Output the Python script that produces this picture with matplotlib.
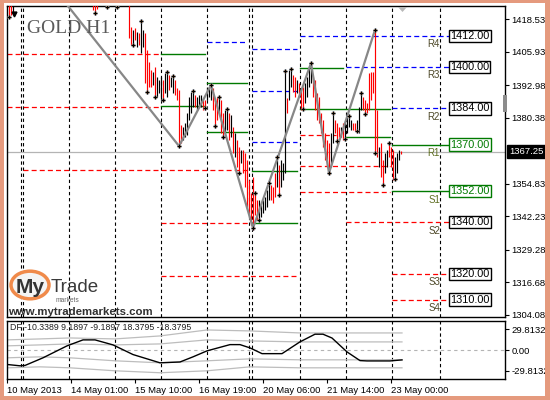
import matplotlib
matplotlib.use('Agg')
import matplotlib.pyplot as plt
from matplotlib.patches import Rectangle, Circle, Polygon

plt.rcParams['font.family'] = ['Liberation Sans', 'DejaVu Sans']

W, H = 550, 400
def fx(px): return px / W
def fy(py): return 1 - py / H

# ---------------- data ----------------
bar_idx = [1, 2, 3, 43, 44, 45, 50, 55] + list(range(61, 198))
bar_high = [1425, 1425, 1425, 1425, 1425, 1425, 1425, 1425,
            1425, 1415.4, 1414.3, 1415.05, 1413.5, 1413.1, 1418.1, 1414.3, 1413.1, 1406.5,
            1401.9, 1398.8, 1398.0, 1400.0, 1396.1, 1394.9, 1396.1, 1394.9, 1397.65, 1398.0,
            1396.9, 1396.1, 1396.5, 1394.9, 1391.85, 1391.1, 1377.5, 1376.8, 1378.3, 1382.2,
            1388.4, 1390.3, 1390.7, 1389.1, 1388.4, 1389.1, 1389.1, 1387.2, 1387.2, 1392.2,
            1392.2, 1393.0, 1391.85, 1387.2, 1388.4, 1388.4, 1387.2, 1382.2, 1383.3, 1383.7,
            1382.2, 1381.4, 1376.8, 1374.4, 1371.7, 1369.0, 1367.9, 1367.9, 1366.7, 1364.0,
            1356.3, 1351.25, 1357.4, 1351.25, 1348.5, 1348.5, 1346.6, 1348.5, 1349.7, 1352.4,
            1355.1, 1354.3, 1353.6, 1359.0, 1365.2, 1362.1, 1364.0, 1362.8, 1398.4, 1388.0,
            1398.8, 1399.2, 1396.9, 1396.1, 1394.9, 1393.8, 1391.1, 1392.2, 1393.8, 1396.1,
            1400.0, 1401.5, 1396.1, 1394.9, 1389.9, 1388.4, 1382.2, 1379.5, 1374.4, 1371.7,
            1370.6, 1374.4, 1382.2, 1379.5, 1378.3, 1376.8, 1376.8, 1378.3, 1378.3, 1380.6,
            1381.0, 1379.5, 1378.3, 1378.3, 1379.5, 1384.5, 1389.9, 1388.4, 1387.2, 1386.05,
            1397.65, 1398.0, 1398.0, 1414.3, 1383.3, 1369.0, 1370.6, 1364.0, 1366.7, 1367.9,
            1370.6, 1369.0, 1367.9, 1365.2, 1366.7, 1367.9, 1367.5]
bar_low = [1419.3, 1420.1, 1421.2, 1422.0, 1420.85, 1422.4, 1423.0, 1423.0,
           1411.2, 1408.5, 1408.5, 1410.4, 1407.7, 1408.5, 1405.4, 1407.7, 1393.8, 1390.3,
           1392.2, 1392.2, 1393.0, 1388.4, 1388.4, 1389.9, 1387.2, 1387.2, 1389.9, 1388.4,
           1391.1, 1392.2, 1389.9, 1389.1, 1387.2, 1369.0, 1370.6, 1371.7, 1372.9, 1373.7,
           1379.5, 1382.2, 1384.5, 1384.5, 1383.3, 1384.5, 1384.5, 1383.3, 1383.3, 1387.2,
           1388.4, 1387.2, 1383.3, 1376.8, 1379.5, 1382.2, 1374.4, 1372.9, 1374.4, 1375.6,
           1371.7, 1372.9, 1366.7, 1365.2, 1361.3, 1359.0, 1362.8, 1359.0, 1353.6, 1345.8,
           1342.7, 1338.9, 1336.9, 1342.7, 1340.8, 1340.8, 1342.0, 1343.5, 1344.7, 1345.8,
           1348.5, 1348.5, 1347.4, 1349.7, 1353.6, 1350.5, 1353.6, 1356.3, 1359.0, 1382.2,
           1387.2, 1392.2, 1390.3, 1388.4, 1389.9, 1388.4, 1383.3, 1383.3, 1386.05, 1388.4,
           1392.2, 1393.8, 1388.4, 1383.3, 1379.5, 1378.3, 1374.4, 1369.0, 1364.0, 1361.3,
           1359.0, 1361.3, 1370.6, 1374.4, 1371.7, 1372.9, 1372.9, 1371.7, 1371.7, 1374.4,
           1376.8, 1375.6, 1375.6, 1375.2, 1375.2, 1374.4, 1383.3, 1383.3, 1381.8, 1382.2,
           1383.3, 1387.2, 1389.9, 1366.7, 1365.2, 1361.3, 1357.4, 1354.3, 1359.0, 1361.3,
           1365.2, 1361.3, 1356.3, 1356.7, 1359.0, 1364.0, 1366.3]
bar_up = [0, 0, 1, 0, 0, 0, 1, 0,
          0, 0, 1, 0, 1, 0, 1, 1, 0, 0,
          0, 0, 1, 0, 1, 1, 1, 0, 1, 1,
          0, 1, 1, 0, 0, 0, 0, 1, 1, 1,
          1, 1, 1, 0, 1, 1, 1, 0, 0, 1,
          1, 1, 0, 0, 0, 1, 0, 0, 1, 1,
          0, 1, 0, 1, 0, 0, 1, 0, 0, 0,
          0, 0, 0, 0, 0, 1, 1, 1, 1, 1,
          1, 0, 0, 0, 1, 0, 1, 1, 1, 0,
          1, 1, 0, 0, 1, 0, 0, 0, 1, 1,
          1, 1, 0, 0, 0, 0, 0, 0, 0, 0,
          0, 1, 1, 0, 0, 0, 1, 0, 1, 1,
          1, 1, 0, 0, 1, 1, 1, 0, 0, 0,
          0, 0, 0, 0, 0, 1, 0, 0, 1, 1,
          0, 0, 0, 1, 1, 1, 0]

zz_idx = [25, 86, 102, 123, 152, 161, 184]
zz_price = [1428.9, 1369.4, 1393.0, 1337.7, 1401.5, 1359.0, 1414.3]

frac_idx = [1, 44, 50, 55, 63, 67, 70, 74, 78, 80, 83, 86, 93, 99, 102, 104, 106, 108, 110,
            116, 123, 124, 126, 131, 135, 136, 139, 142, 148, 152, 161, 163, 165, 169, 171,
            175, 177, 179, 184, 184, 188, 191, 194]
frac_price = [1419.3, 1420.85, 1423.2, 1423.2, 1408.5, 1417.76, 1390.3, 1388.4, 1387.2, 1398.0,
              1396.5, 1369.4, 1390.7, 1384.1, 1393.0, 1377.2, 1388.4, 1372.9, 1383.7,
              1359.0, 1337.7, 1351.25, 1340.8, 1355.1, 1365.2, 1350.5, 1398.4, 1399.2, 1383.7,
              1401.5, 1359.0, 1382.2, 1371.3, 1372.0, 1381.0, 1375.2, 1389.9, 1381.8,
              1414.3, 1366.7, 1354.3, 1370.6, 1356.7]

sep_idx = [7, 8, 31, 54, 77, 100, 121, 122.5, 146.5, 169.5, 192.5, 216.5]

lvl_price = [1405.0, 1384.5, 1360.0, 1339.6, 1319.0, 1361.7, 1351.6, 1373.7, 1340, 1320, 1310,
             1405.0, 1384.9, 1393.8, 1374.8, 1359.9, 1339.6, 1399.6, 1383.7, 1372.9, 1370, 1352,
             1409.6, 1406.9, 1390.7, 1371.0, 1412, 1400, 1384]
lvl_start = [0, 0, 8, 77, 77, 146.5, 146.5, 146.5, 169.5, 192.5, 192.5,
             77, 77, 100, 100, 122.5, 122.5, 146.5, 146.5, 169.5, 192.5, 192.5,
             100, 122.5, 122.5, 122.5, 146.5, 169.5, 192.5]
lvl_end = [76.5, 76.5, 121.5, 121.5, 145, 191.5, 191.5, 164.5, 221, 221, 221,
           99, 99, 120, 120, 145, 145, 168, 191.5, 191.5, 221, 221,
           120, 145, 145, 145, 221, 221, 221]
lvl_kind = ['r'] * 11 + ['g'] * 11 + ['b'] * 7

box_levels = [1412, 1400, 1384, 1370, 1352, 1340, 1320, 1310]
box_names = ['R4', 'R3', 'R2', 'R1', 'S1', 'S2', 'S3', 'S4']

price_ticks = [1418.53, 1405.93, 1392.98, 1380.38, 1354.83, 1342.23, 1329.28, 1316.68, 1304.08]
last_price = 1367.25

time_idx = [0, 32, 64, 96, 128, 160, 192]
time_labels = ['10 May 2013', '14 May 01:00', '15 May 10:00', '16 May 19:00',
               '20 May 06:00', '21 May 14:00', '23 May 00:00']

df_idx = [0, 6.5, 9, 18, 30, 38, 44, 53, 63, 76.5, 86.5, 93, 100, 111.5, 116.5, 121.5,
          127.5, 137.5, 146.5, 154, 158, 162.5, 170, 176.5, 180, 191.5, 197.5]
df_val = [-20.6, -22.5, -22, -11, 6.2, 14.8, 14.8, 7.6, -6.3, -18.2, -17, -9.6, -1, 8, 8, 3.3,
          -5, -5, 12, 23, 23, 17.5, -2.5, -15, -15.5, -15.5, -14]
band_idx = [0, 16.5, 31.5, 54, 76.5, 100, 121.5, 146.5, 171.5, 197.5]
band_up2 = [14.8, 16.2, 17.6, 16.2, 20.5, 29.1, 27.7, 24.8, 24.8, 24.8]
band_up1 = [6.2, 7.6, 9.0, 7.6, 9.0, 14.8, 13.3, 11.9, 11.9, 11.9]
band_dn1 = [-11.0, -9.6, -11.0, -15.3, -18.2, -15.3, -12.5, -13.9, -13.9, -13.9]
band_dn2 = [-25.4, -24.0, -25.4, -29.7, -32.5, -29.7, -24.0, -25.4, -25.4, -25.4]
df_ticks = [29.8132, 0.0, -29.8132]
df_tick_labels = ['29.8132', '0.00', '-29.8132']
df_title = 'DF -10.3389 9.1897 -9.1897 18.3795 -18.3795'

# ---------------- figure ----------------
fig = plt.figure(figsize=(5.5, 4), dpi=100)
fig.patch.set_facecolor('white')

ax = fig.add_axes([fx(7), fy(317), (505 - 7) / W, (317 - 6) / H])
axi = fig.add_axes([fx(7), fy(379), (505 - 7) / W, (379 - 321) / H])

RED, BLUE, GREEN = '#ff0000', '#0000ff', '#007a00'
dash_sep = (0, (3, 2.5))
dash_lvl = (0, (4, 2.5))

for a in (ax, axi):
    a.set_xlim(0, 249)
    for s in a.spines.values():
        s.set_color('black')
        s.set_linewidth(1.0)
    for k in sep_idx:
        a.axvline(k, color='black', lw=0.8, ls=dash_sep, zorder=1)

ax.set_ylim(1303.3, 1423.56)

# current price line
ax.axhline(last_price, color='#b4b4b4', lw=0.9, zorder=1)

# level lines
for p, s, e, kd in zip(lvl_price, lvl_start, lvl_end, lvl_kind):
    if kd == 'r':
        ax.plot([s, e], [p, p], color=RED, lw=0.9, ls=dash_lvl, zorder=2)
    elif kd == 'b':
        ax.plot([s, e], [p, p], color=BLUE, lw=0.9, ls=dash_lvl, zorder=2)
    else:
        ax.plot([s, e], [p, p], color=GREEN, lw=1.0, zorder=2)

# bars
bar_colors = ['black' if u else RED for u in bar_up]
ax.vlines(bar_idx, bar_low, bar_high, colors=bar_colors, lw=0.85, zorder=3)

# zigzag
ax.plot(zz_idx, zz_price, color='#878787', lw=1.6, zorder=4, solid_capstyle='round')

# fractal markers
ax.scatter(frac_idx, frac_price, s=7, c='#f4a860', edgecolors='#8ab8e8', linewidths=0.3, zorder=5)
ax.scatter(frac_idx, frac_price, marker='+', s=8, c='black', linewidths=0.9, zorder=6)
ax.plot([3.5], [1420.6], marker='v', color='black', ms=3.5, zorder=6)

# level boxes and names
for p, n in zip(box_levels, box_names):
    col = GREEN if n in ('R1', 'S1') else 'black'
    ax.text(221.5, p, f'{p:.2f}', ha='left', va='center', fontsize=7.8, color=col, zorder=7,
            bbox=dict(boxstyle='square,pad=0.12', fc='white', ec=col, lw=1.0))
    ncol = '#5f6e22' if n in ('R1', 'S1') else '#4d4828'
    ax.annotate(n, xy=(216.5, p), xytext=(0, -2.5), textcoords='offset points',
                ha='right', va='top', fontsize=7, color=ncol, zorder=7)

# price axis
ax.yaxis.tick_right()
ax.set_yticks(price_ticks)
ax.set_yticklabels([f'{v:.2f}' for v in price_ticks])
ax.tick_params(axis='y', labelsize=6.8, length=3, pad=1.5, direction='out', colors='black')
ax.set_xticks([])
ax.annotate(f'{last_price:.2f}', xy=(1, last_price), xycoords=('axes fraction', 'data'),
            xytext=(3, 0), textcoords='offset points', ha='left', va='center',
            fontsize=6.8, color='white', zorder=8,
            bbox=dict(boxstyle='square,pad=0.18', fc='black', ec='black'))

# indicator panel
axi.set_ylim(-41.5, 42)
axi.axhline(0, color='#b4b4b4', lw=0.8, ls=(0, (3, 3)), zorder=1)
for band in (band_up2, band_up1, band_dn1, band_dn2):
    axi.plot(band_idx, band, color='#bdbdbd', lw=0.9, zorder=2)
axi.plot(df_idx, df_val, color='black', lw=1.0, zorder=3)
axi.text(0.006, 0.96, df_title, transform=axi.transAxes, ha='left', va='top',
         fontsize=6.3, color='#202020')
axi.yaxis.tick_right()
axi.set_yticks(df_ticks)
axi.set_yticklabels(df_tick_labels)
axi.tick_params(axis='y', labelsize=6.8, length=3, pad=1.5, direction='out')
axi.set_xticks(time_idx)
axi.set_xticklabels(time_labels)
for lbl in axi.get_xticklabels():
    lbl.set_ha('left')
axi.tick_params(axis='x', labelsize=6.8, length=3, pad=2, direction='out')

# title and logo
fig.text(fx(27), fy(33), 'GOLD H1', fontsize=14, family=['Liberation Serif'],
         color='#5a5a5a', va='baseline')
fig.patches.append(Circle((fx(30), fy(285)), 19 / W, transform=fig.transFigure,
                          fc='#f4f4f4', ec='#f08a4a', lw=2.5, zorder=5))
fig.text(fx(16), fy(293), 'My', fontsize=15, fontweight='bold', color='#333333',
         va='baseline', zorder=6)
fig.text(fx(51), fy(292), 'Trade', fontsize=13.5, color='#3a3a3a', va='baseline', zorder=6)
fig.text(fx(56), fy(302), 'markets', fontsize=4.8, color='#666666', va='baseline', zorder=6)
fig.text(fx(8), fy(315), 'www.mytrademarkets.com', fontsize=8.2, fontweight='bold',
         color='#303030', va='baseline', zorder=6)

# decorations
fig.patches.append(Polygon([(fx(398), fy(7)), (fx(407), fy(7)), (fx(402.5), fy(12))],
                           closed=True, transform=fig.transFigure, fc='#b8b8b8', ec='none', zorder=6))
fig.patches.append(Rectangle((fx(503), fy(112)), 4 / W, 17 / H, transform=fig.transFigure,
                             fc='#8c8c8c', ec='none', zorder=6))

# window border
BC = '#e59a7e'
for (x0, y0, w, h) in [(0, 0, 4, 400), (0, 0, 550, 3), (545, 0, 5, 400), (0, 396, 550, 4)]:
    fig.patches.append(Rectangle((fx(x0), fy(y0 + h)), w / W, h / H,
                                 transform=fig.transFigure, fc=BC, ec='none', zorder=10))

fig.savefig('out.png', dpi=100)
